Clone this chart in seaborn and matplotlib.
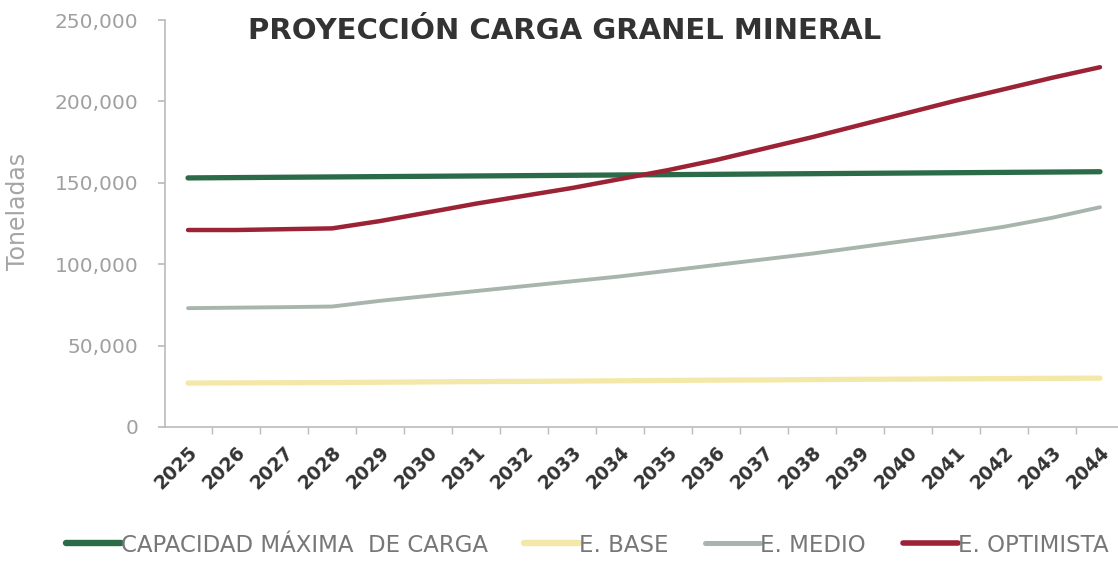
import numpy as np
import pandas as pd
import matplotlib
matplotlib.use("Agg")
import matplotlib.pyplot as plt
import matplotlib.transforms as mtransforms
from matplotlib.lines import Line2D
import seaborn as sns

years = list(range(2025, 2045))
capacidad = [153000, 153200, 153400, 153600, 153800, 154000, 154200, 154400, 154600, 154800,
             155000, 155200, 155400, 155600, 155800, 156000, 156200, 156400, 156600, 156800]
e_base = [27000, 27100, 27200, 27300, 27500, 27700, 27900, 28000, 28200, 28400,
          28600, 28800, 28900, 29100, 29300, 29400, 29600, 29700, 29900, 30000]
e_medio = [73000, 73300, 73600, 74000, 77500, 80500, 83500, 86500, 89500, 92500,
           96000, 99500, 103000, 106500, 110500, 114500, 118500, 123000, 128500, 135000]
e_optimista = [121000, 121000, 121500, 122000, 126500, 131800, 137200, 142000, 146800, 152300,
               157800, 164000, 171000, 178000, 185500, 193000, 200500, 207500, 214500, 221000]
series_names = ["CAPACIDAD MÁXIMA  DE CARGA", "E. BASE", "E. MEDIO", "E. OPTIMISTA"]
y_ticks = [0, 50000, 100000, 150000, 200000, 250000]

df = pd.DataFrame({
    "Año": years * 4,
    "Toneladas": capacidad + e_base + e_medio + e_optimista,
    "Serie": sum([[n] * len(years) for n in series_names], []),
})

colors = {series_names[0]: "#2b6b47", series_names[1]: "#f4e8a8",
          series_names[2]: "#a8b5ad", series_names[3]: "#9c2235"}
widths = {series_names[0]: 3.8, series_names[1]: 3.8, series_names[2]: 2.8, series_names[3]: 3.2}

sns.set_theme(style="white")
plt.rcParams['font.family'] = ['DejaVu Sans']

fig = plt.figure(figsize=(11.18, 5.61), dpi=100)
ax = fig.add_axes([165/1118, 1 - 427/561, 1 - 165/1118, (427 - 20)/561])

for name in series_names:
    sub = df[df["Serie"] == name]
    sns.lineplot(data=sub, x="Año", y="Toneladas", ax=ax, color=colors[name],
                 linewidth=widths[name], legend=False, solid_capstyle="round")

ax.set_xlim(2024.52, 2044.375)
ax.set_ylim(0, 250000)
ax.set_yticks(y_ticks)
ax.set_yticklabels([f"{v:,}" for v in y_ticks], color="#a0a0a0", fontsize=14.5)
ax.set_xticks(years)
ax.set_xticklabels([str(y) for y in years], rotation=45, ha="right", rotation_mode="anchor",
                   fontsize=13.5, fontweight="bold", color="#333333")
offset = mtransforms.ScaledTranslation(12/100, 0, fig.dpi_scale_trans)
for lbl in ax.get_xticklabels():
    lbl.set_transform(lbl.get_transform() + offset)
ax.set_xticks([y + 0.5 for y in years[:-1]], minor=True)
ax.tick_params(axis="x", which="major", length=0, pad=11)
ax.tick_params(axis="x", which="minor", length=5, color="#bbbbbb", bottom=True)
ax.tick_params(axis="y", which="major", length=5, color="#bbbbbb", left=True, pad=14)
ax.set_xlabel("")
ax.set_ylabel("Toneladas", color="#a5a5a5", fontsize=17)
ax.yaxis.set_label_coords(-0.142, 0.53)
for s in ["top", "right"]:
    ax.spines[s].set_visible(False)
for s in ["left", "bottom"]:
    ax.spines[s].set_color("#bbbbbb")
    ax.spines[s].set_linewidth(1.2)
ax.grid(False)

fig.text(565/1118, 1 - 31/561, "PROYECCIÓN CARGA GRANEL MINERAL", ha="center", va="center",
         fontsize=21, fontweight="bold", color="#333333")

handles = [Line2D([0], [0], color=colors[n], linewidth=widths[n] + 0.8) for n in series_names]
fig.legend(handles, series_names, loc="center", bbox_to_anchor=(0.525, 1 - 545/561), ncol=4,
           frameon=False, handlelength=2.4, handletextpad=0.0, columnspacing=1.6,
           prop={"size": 16.5}, labelcolor="#777777")

fig.savefig("out.png", dpi=100, facecolor="white")
